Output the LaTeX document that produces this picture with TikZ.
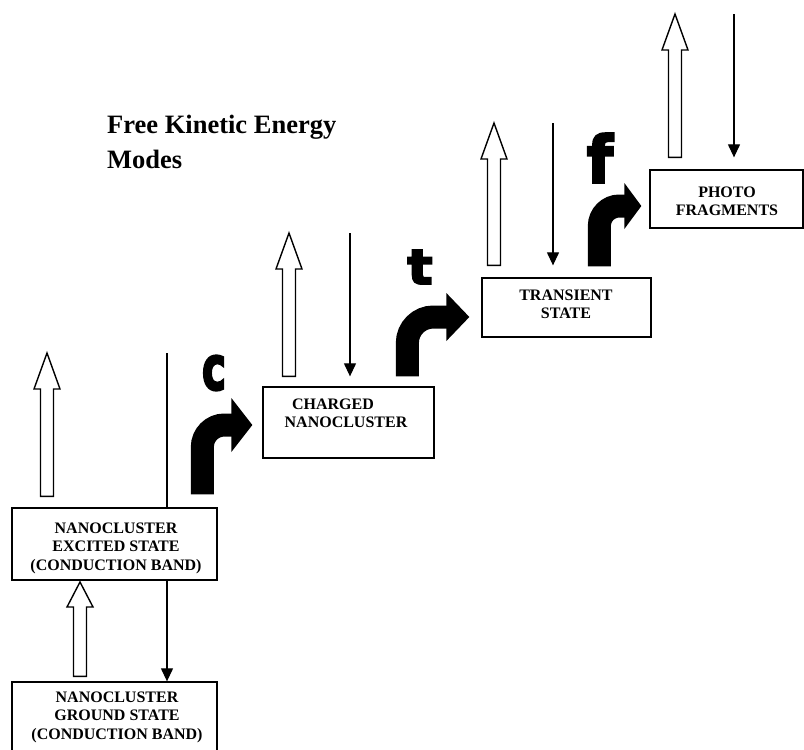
\documentclass[tikz,border=0pt]{standalone}
\usepackage{fontspec}
\setmainfont{Liberation Serif}
\newfontfamily\heavyfont{DejaVu Sans}[BoldFeatures={FakeBold=4}]
\usetikzlibrary{arrows.meta,calc}
\begin{document}
\begin{tikzpicture}[x=1pt,y=-1pt,
  box/.style={draw, line width=1.3pt, inner sep=0pt},
  boxtext/.style={inner sep=0pt, anchor=north, align=center,
    font=\fontsize{16}{18.7}\selectfont\bfseries},
  titletext/.style={inner sep=0pt, anchor=base west,
    font=\fontsize{26.5}{35}\selectfont\bfseries},
  thinline/.style={line width=1.2pt},
  thinarrow/.style={line width=1.2pt, -{Triangle[length=13pt,width=12pt]}},
  hollow/.style={draw, fill=white, line width=1.4pt, line join=miter,
    to path={let \p1=(\tikztostart), \p2=(\tikztotarget) in
      (\x1-6.5pt,\y1) -- (\x1-6.5pt,\y2-#1) -- (\x1-13pt,\y2-#1) -- (\x1,\y2)
      -- (\x1+13pt,\y2-#1) -- (\x1+6.5pt,\y2-#1) -- (\x1+6.5pt,\y1) -- cycle}},
  turn/.style={line width=23pt, rounded corners=#1},
  letter/.style={inner sep=0pt, font=\heavyfont\bfseries}
]
\useasboundingbox (0,0) rectangle (804,750);

% title
\node[titletext] (title1) at (107,133) {Free Kinetic Energy};
\node[titletext] (title2) at (107,168) {Modes};

% boxes
\node[box, minimum width=205pt, minimum height=80pt] (ground) at (114.5,722) {};
\node[box, minimum width=205pt, minimum height=72pt] (excited) at (114.5,544) {};
\node[box, minimum width=171pt, minimum height=71pt] (charged) at (348.5,422.5) {};
\node[box, minimum width=169pt, minimum height=59pt] (transient) at (566.5,307.5) {};
\node[box, minimum width=153pt, minimum height=58pt] (photo) at (726.5,199) {};

% box texts
\node[boxtext] (groundtext) at (117,691.4) {NANOCLUSTER\\GROUND STATE\\(CONDUCTION BAND)};
\node[boxtext] (excitedtext) at (116,522.4) {NANOCLUSTER\\EXCITED STATE\\(CONDUCTION BAND)};
\node[boxtext] (chargedtext) at (346,398.4) {CHARGED\kern26pt\\NANOCLUSTER};
\node[boxtext] (transienttext) at (566,289.4) {TRANSIENT\\STATE};
\node[boxtext] (phototext) at (727,186.4) {PHOTO\\FRAGMENTS};

% free ends
\coordinate (h0) at (80,582);
\coordinate (h1) at (47,353);
\coordinate (h2) at (289,233);
\coordinate (h3) at (494,123);
\coordinate (h4) at (675,14);
\coordinate (k1) at (167,353);
\coordinate (k2) at (350,233);
\coordinate (k3) at (553,123);
\coordinate (k4) at (734,14);

% hollow arrows
\draw[hollow=25pt] ($(h0 |- ground.north)+(0,-5)$) to (h0);
\draw[hollow=36pt] ($(h1 |- excited.north)+(0,-11)$) to (h1);
\draw[hollow=36pt] ($(h2 |- charged.north)+(0,-10)$) to (h2);
\draw[hollow=36pt] ($(h3 |- transient.north)+(0,-12)$) to (h3);
\draw[hollow=36pt] ($(h4 |- photo.north)+(0,-12)$) to (h4);

% thin lines
\draw[thinline] (k1) -- (k1 |- excited.north);
\draw[thinarrow] (k1 |- excited.south) -- (k1 |- ground.north);
\draw[thinarrow] (k2) -- ($(k2 |- charged.north)+(0,-10)$);
\draw[thinarrow] (k3) -- ($(k3 |- transient.north)+(0,-12)$);
\draw[thinarrow] (k4) -- ($(k4 |- photo.north)+(0,-12)$);

% black turn arrows
\coordinate (cS) at ($(excited.north west)+(191,-13)$);
\coordinate (cE) at ($(charged.west)+(-10,2.5)$);
\draw[turn=22pt] (cS) |- ($(cE)+(-20,0)$);
\fill ($(cE)+(-21,-27)$) -- (cE) -- ($(cE)+(-21,27)$) -- cycle;

\coordinate (tS) at ($(charged.north west)+(145,-10)$);
\coordinate (tE) at ($(transient.west)+(-12,9.5)$);
\draw[turn=26pt] (tS) |- ($(tE)+(-22,0)$);
\fill ($(tE)+(-23,-24)$) -- (tE) -- ($(tE)+(-23,24)$) -- cycle;

\coordinate (fS) at ($(transient.north west)+(118,-11)$);
\coordinate (fE) at ($(photo.west)+(-8,7)$);
\draw[turn=20pt] (fS) |- ($(fE)+(-16,0)$);
\fill ($(fE)+(-17,-23)$) -- (fE) -- ($(fE)+(-17,23)$) -- cycle;

% letters
\node[letter] (lc) at (214,373) {\resizebox{24pt}{34pt}{c}};
\node[letter] (lt) at (420,267) {\resizebox{25pt}{34pt}{t}};
\node[letter] (lf) at (600,158) {\resizebox{26pt}{49pt}{f}};
\end{tikzpicture}
\end{document}
